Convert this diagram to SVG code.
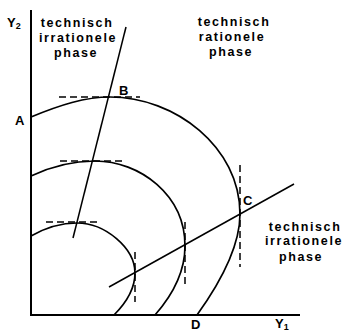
<svg xmlns="http://www.w3.org/2000/svg" width="345" height="332" viewBox="0 0 345 332">
<style>
.ax{stroke:#000;stroke-width:2;fill:none}
.cv{stroke:#000;stroke-width:1.7;fill:none}
.ln{stroke:#000;stroke-width:1.5;fill:none}
.da{stroke:#000;stroke-width:1.5;fill:none;stroke-dasharray:7,4}
text{font-family:"Liberation Sans",Arial,sans-serif;font-weight:bold;fill:#000}
.ph{font-size:12.5px;letter-spacing:1.6px;text-anchor:middle}
.pt{font-size:13px}
</style>
<rect width="345" height="332" fill="#fff"/>
<g id="axes">
<line class="ax" x1="31" y1="10" x2="31" y2="316"/>
<line class="ax" x1="30" y1="315" x2="300" y2="315"/>
</g>
<g id="curves">
<path class="cv" d="M31,117 C60,105 85,97 110,97 C175,97 240,147 240,214 C240,250 215,290 197,315"/>
<path class="cv" d="M31,176 C50,167 72,161 95,161 C140,161 185,195 185,246 C185,275 170,298 155,315"/>
<path class="cv" d="M31,236 C45,228 60,223 77,223 C105,223 135,248 135,273 C135,290 125,304 114,315"/>
</g>
<g id="connectors">
<line class="ln" x1="73" y1="238" x2="126" y2="27"/>
<line class="ln" x1="109" y1="287" x2="294" y2="184"/>
<line class="da" x1="59" y1="97" x2="140" y2="97"/>
<line class="da" x1="60" y1="161" x2="125" y2="161"/>
<line class="da" x1="46" y1="222" x2="100" y2="222"/>
<line class="da" x1="240" y1="165" x2="240" y2="267"/>
<line class="da" x1="185" y1="222" x2="185" y2="288"/>
<line class="da" x1="135" y1="252" x2="135" y2="302"/>
</g>
<g id="phase-left">
<text class="ph" x="77" y="27">technisch</text>
<text class="ph" x="78" y="42">irrationele</text>
<text class="ph" x="76" y="57">phase</text>
</g>
<g id="phase-top-right">
<text class="ph" x="234" y="26">technisch</text>
<text class="ph" x="232" y="41">rationele</text>
<text class="ph" x="231" y="56">phase</text>
</g>
<g id="phase-bottom-right">
<text class="ph" x="305" y="231">technisch</text>
<text class="ph" x="304" y="245">irrationele</text>
<text class="ph" x="301" y="261">phase</text>
</g>
<g id="labels">
<text class="pt" x="7" y="27">Y<tspan font-size="9" dy="2">2</tspan></text>
<text class="pt" x="15" y="125">A</text>
<text class="pt" x="119" y="95">B</text>
<text class="pt" x="243" y="205">C</text>
<text class="pt" x="191" y="329">D</text>
<text class="pt" x="275" y="328">Y<tspan font-size="9" dy="2">1</tspan></text>
</g>
</svg>
